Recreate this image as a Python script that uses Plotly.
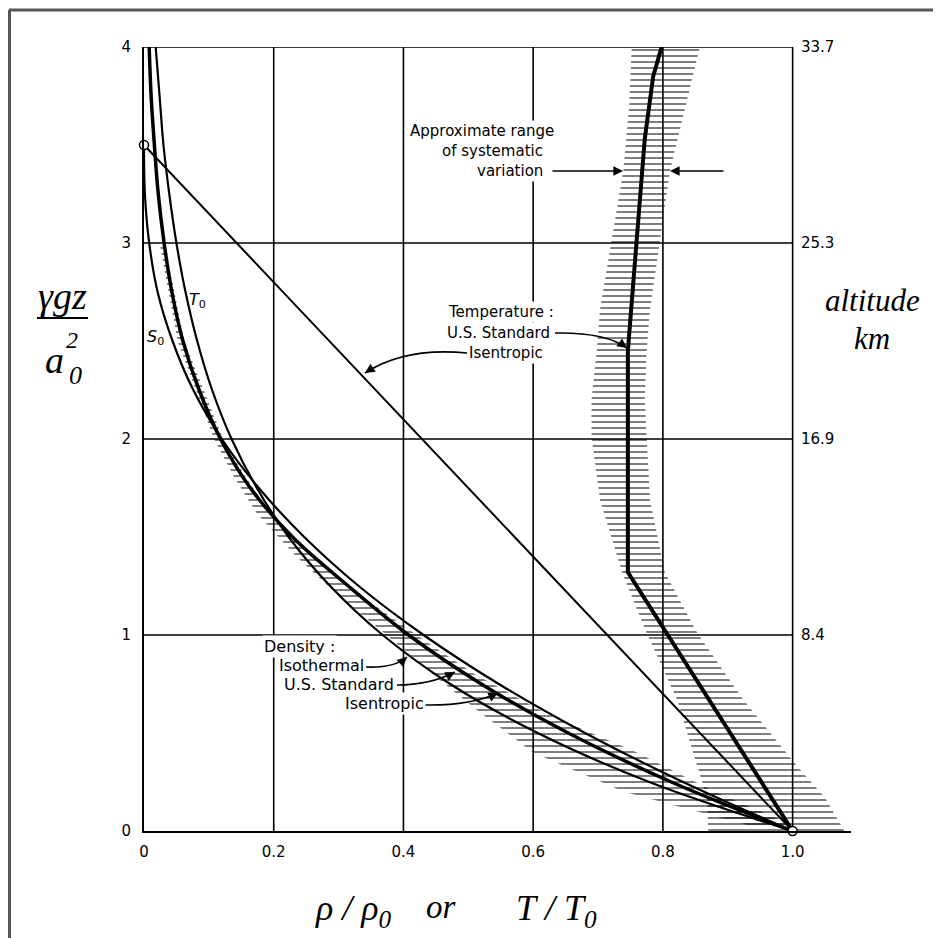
import plotly.graph_objects as go

# ---------------- data ----------------
heights = [0.0, 0.25, 0.5, 0.75, 1.0, 1.25, 1.5, 1.75, 2.0, 2.25, 2.5, 2.75, 3.0, 3.25, 3.5, 3.75, 4.0]
rho_isothermal = [1.0, 0.779, 0.607, 0.472, 0.368, 0.287, 0.223, 0.174, 0.135, 0.105, 0.082, 0.064, 0.050, 0.039, 0.030, 0.024, 0.018]
rho_us_standard = [1.0, 0.813, 0.654, 0.520, 0.408, 0.315, 0.229, 0.164, 0.118, 0.085, 0.060, 0.043, 0.031, 0.022, 0.016, 0.011, 0.008]
heights_isentropic = [0.0, 0.25, 0.5, 0.75, 1.0, 1.25, 1.5, 1.75, 2.0, 2.25, 2.5, 2.75, 3.0, 3.25, 3.5]
rho_isentropic = [1.0, 0.831, 0.680, 0.547, 0.431, 0.331, 0.247, 0.177, 0.120, 0.076, 0.044, 0.021, 0.008, 0.0014, 0.0]

T_isentropic_x = [1.0, 0.0]
T_isentropic_y = [0.0, 3.5]

T_us_y = [0.0, 1.32, 2.45, 2.71, 3.07, 3.23, 3.53, 3.85, 4.0]
T_us_x = [1.0, 0.746, 0.746, 0.752, 0.761, 0.765, 0.772, 0.785, 0.798]

T_band_y = [0.0, 0.17, 0.33, 0.67, 1.01, 1.32, 1.69, 2.01, 2.2, 2.45, 2.66, 3.0, 3.37, 3.7, 4.0]
T_band_lo = [0.87, 0.868, 0.853, 0.822, 0.775, 0.737, 0.703, 0.690, 0.690, 0.698, 0.703, 0.72, 0.739, 0.748, 0.752]
T_band_hi = [1.08, 1.05, 1.007, 0.924, 0.853, 0.803, 0.780, 0.775, 0.772, 0.775, 0.780, 0.795, 0.811, 0.835, 0.857]

rho_band_y = [0.03, 0.2, 0.4, 0.6, 0.8, 1.0, 1.2, 1.4, 1.62, 1.8, 2.0, 2.5, 3.0]
rho_band_lo = [0.93, 0.74, 0.60, 0.52, 0.445, 0.374, 0.30, 0.235, 0.174, 0.140, 0.108, 0.052, 0.024]
rho_band_hi = [1.0, 0.88, 0.76, 0.62, 0.51, 0.42, 0.335, 0.26, 0.196, 0.158, 0.122, 0.062, 0.032]

x_ticks = [0, 0.2, 0.4, 0.6, 0.8, 1.0]
x_ticktext = ["0", "0.2", "0.4", "0.6", "0.8", "1.0"]
y_ticks = [0, 1, 2, 3, 4]
y_ticktext = ["0", "1", "2", "3", "4"]
alt_ticks = [1, 2, 3, 4]
alt_ticktext = ["8.4", "16.9", "25.3", "33.7"]

# ---------------- layout geometry (page pixels; body has an 8px margin) ----------------
OFF = 8
W_FIG, H_FIG = 941, 938
PLOT_X0, PLOT_X1 = 144, 851     # page px of x=0 and x=1.09
PLOT_Y0, PLOT_Y1 = 831, 47      # page px of y=0 and y=4
L = PLOT_X0 - OFF
T = PLOT_Y1 - OFF
PW = PLOT_X1 - PLOT_X0
PH = PLOT_Y0 - PLOT_Y1
R = W_FIG - L - PW
B = H_FIG - T - PH


def px(xp):
    return (xp - PLOT_X0) / PW


def py(yp):
    return (PLOT_Y0 - yp) / PH


SANS = "DejaVu Sans"
SERIF = "Liberation Serif"
NB = "\u00a0"

fig = go.Figure()


def band(ys, lo, hi):
    xs = list(lo) + list(reversed(hi))
    yy = list(ys) + list(reversed(ys))
    return go.Scatter(x=xs, y=yy, mode="lines", fill="toself", line=dict(width=0, color="rgba(0,0,0,0)"),
                      fillcolor="rgba(0,0,0,0)",
                      fillpattern=dict(shape="-", size=6, solidity=0.34, fgcolor="black", bgcolor="rgba(0,0,0,0)"),
                      hoverinfo="skip", cliponaxis=False)


fig.add_trace(band(T_band_y, T_band_lo, T_band_hi))
fig.add_trace(band(rho_band_y, rho_band_lo, rho_band_hi))

fig.add_trace(go.Scatter(x=rho_isothermal, y=heights, mode="lines", line=dict(color="black", width=2.2, shape="spline")))
fig.add_trace(go.Scatter(x=rho_isentropic, y=heights_isentropic, mode="lines", line=dict(color="black", width=2.2, shape="spline")))
fig.add_trace(go.Scatter(x=rho_us_standard, y=heights, mode="lines", line=dict(color="black", width=3.5, shape="spline")))
fig.add_trace(go.Scatter(x=T_us_x, y=T_us_y, mode="lines", line=dict(color="black", width=4)))
fig.add_trace(go.Scatter(x=T_isentropic_x, y=T_isentropic_y, mode="lines+markers", line=dict(color="black", width=2),
                         marker=dict(symbol="circle", size=9, color="white", line=dict(color="black", width=1.5)),
                         cliponaxis=False))

shapes = []
for xv in x_ticks[1:]:
    shapes.append(dict(type="line", xref="x", yref="y", x0=xv, x1=xv, y0=y_ticks[0], y1=y_ticks[-1],
                       line=dict(color="black", width=1.6), layer="below"))
for yv in y_ticks[1:]:
    shapes.append(dict(type="line", xref="x", yref="y", x0=x_ticks[0], x1=x_ticks[-1], y0=yv, y1=yv,
                       line=dict(color="black", width=1.6), layer="below"))
# outer page border
shapes.append(dict(type="line", xref="paper", yref="paper", x0=px(9), x1=px(960), y0=py(10), y1=py(10),
                   line=dict(color="#555", width=3)))
shapes.append(dict(type="line", xref="paper", yref="paper", x0=px(9.5), x1=px(9.5), y0=py(10), y1=py(960),
                   line=dict(color="#555", width=3)))
# fraction bar of the y label
shapes.append(dict(type="line", xref="paper", yref="paper", x0=px(37), x1=px(88), y0=py(318), y1=py(318),
                   line=dict(color="black", width=2)))

annotations = []


def curved_arrow(p0, c, p1):
    shapes.append(dict(type="path", xref="paper", yref="paper",
                       path=f"M {px(p0[0])},{py(p0[1])} Q {px(c[0])},{py(c[1])} {px(p1[0])},{py(p1[1])}",
                       line=dict(color="black", width=1.6)))
    dx, dy = c[0] - p1[0], c[1] - p1[1]
    n = (dx * dx + dy * dy) ** 0.5 or 1
    annotations.append(dict(xref="paper", yref="paper", x=px(p1[0]), y=py(p1[1]), text="", showarrow=True,
                            arrowhead=2, arrowsize=1.2, arrowwidth=1.6, arrowcolor="black",
                            ax=dx / n * 10, ay=dy / n * 10))


def label(text, xp, yp, size=15, anchor="left", family=SANS, bg="white"):
    annotations.append(dict(xref="paper", yref="paper", x=px(xp), y=py(yp), text=text, showarrow=False,
                            xanchor=anchor, yanchor="middle", bgcolor=bg, borderpad=1,
                            font=dict(family=family, size=size, color="black")))


# right altitude tick labels
for v, t in zip(alt_ticks, alt_ticktext):
    annotations.append(dict(xref="x", yref="y", x=x_ticks[-1], y=v, text=t, showarrow=False, xanchor="left",
                            xshift=6, font=dict(family=SANS, size=15, color="black")))

# density labels
label("Density :", 262, 646, size=16)
label("Isothermal", 277, 665, size=16)
label("U.S. Standard", 282, 684, size=16)
label("Isentropic", 343, 703, size=16)
curved_arrow((366, 667), (395, 668), (407, 657))
curved_arrow((397, 685), (430, 685), (455, 672))
curved_arrow((423, 705), (470, 706), (498, 693))

# temperature labels
label("Temperature :", 556, 312, anchor="right")
label("U.S. Standard", 552, 333, anchor="right")
label("Isentropic", 545, 353, anchor="right")
curved_arrow((555, 333), (605, 332), (627, 348))
curved_arrow((467, 353), (405, 347), (365, 373))

# range of systematic variation
label("Approximate range", 556, 131, anchor="right")
label("of systematic", 545, 151, anchor="right")
label("variation", 545, 171, anchor="right")
annotations.append(dict(xref="paper", yref="paper", x=px(623), y=py(171), text="", showarrow=True, arrowhead=2,
                        arrowsize=1.2, arrowwidth=1.6, arrowcolor="black", ax=-72, ay=0))
annotations.append(dict(xref="paper", yref="paper", x=px(670), y=py(171), text="", showarrow=True, arrowhead=2,
                        arrowsize=1.2, arrowwidth=1.6, arrowcolor="black", ax=55, ay=0))

# curve name labels
label("<i>S</i><sub>0</sub>", 155, 337, size=16, anchor="center", bg=None)
label("<i>T</i><sub>0</sub>", 197, 300, size=16, anchor="center", bg=None)

# axis titles
label("<i>γgz</i>", 62, 296, size=38, anchor="center", family=SERIF, bg=None)
label("<i>a</i>", 54, 360, size=38, anchor="center", family=SERIF, bg=None)
label("<i>2</i>", 72, 340, size=24, anchor="center", family=SERIF, bg=None)
label("<i>0</i>", 75, 376, size=26, anchor="center", family=SERIF, bg=None)
label("<i>altitude</i>", 872, 300, size=31, anchor="center", family=SERIF, bg=None)
label("<i>km</i>", 872, 338, size=31, anchor="center", family=SERIF, bg=None)
label(f"<i>ρ{NB}/{NB}ρ<sub>0</sub></i>", 353, 910, size=36, anchor="center", family=SERIF, bg=None)
label("<i>or</i>", 441, 907, size=33, anchor="center", family=SERIF, bg=None)
label(f"<i>T{NB}/{NB}T<sub>0</sub></i>", 556, 910, size=36, anchor="center", family=SERIF, bg=None)

fig.update_layout(
    width=W_FIG, height=H_FIG,
    margin=dict(l=L, r=R, t=T, b=B),
    paper_bgcolor="white", plot_bgcolor="white",
    showlegend=False,
    shapes=shapes, annotations=annotations,
    xaxis=dict(range=[0, 1.09], tickvals=x_ticks, ticktext=x_ticktext, showgrid=False, zeroline=False,
               showline=True, linecolor="black", linewidth=2, ticks="", ticklabelstandoff=6,
               tickfont=dict(family=SANS, size=15, color="black")),
    yaxis=dict(range=[0, 4], tickvals=y_ticks, ticktext=y_ticktext, showgrid=False, zeroline=False,
               showline=True, linecolor="black", linewidth=2, ticks="", ticklabelstandoff=8,
               tickfont=dict(family=SANS, size=15, color="black")),
)

fig.write_html("out.html")
